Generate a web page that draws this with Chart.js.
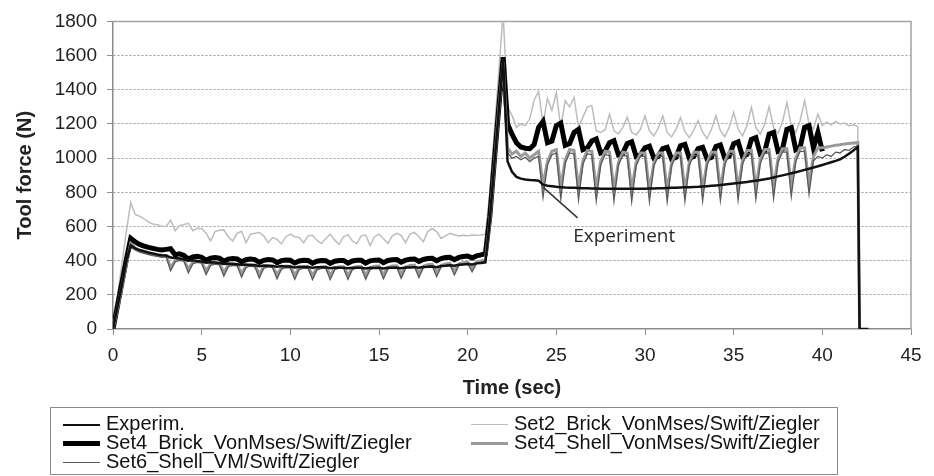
<!DOCTYPE html>
<html>
<head>
<meta charset="utf-8">
<title>Tool force vs time</title>
<script src="https://cdn.jsdelivr.net/npm/chart.js@4/dist/chart.umd.min.js"></script>
<style>
    body { margin: 0; background: #fff; }
    #wrap { position: relative; width: 934px; height: 476px; }
    #legend {
        position: absolute; left: 50px; top: 407px; width: 788px; height: 68px;
        border: 1px solid #8a8a8a; box-sizing: border-box;
        font-family: 'Liberation Sans', Arial, sans-serif; font-size: 20px; color: #111;
    }
    .item { position: absolute; height: 20px; line-height: 20px; white-space: nowrap; }
    .swatch { display: inline-block; vertical-align: middle; width: 37px; margin-right: 6px; }
</style>
</head>
<body>
<div id="wrap">
    <canvas id="force-chart" width="934" height="476"></canvas>
    <div id="legend"></div>
</div>
<script>
// Sample times (sec)
const time = [
    0, 0.25, 0.5, 0.75, 1, 1.25, 1.5, 1.75,
    2, 2.25, 2.5, 2.75, 3, 3.25, 3.5, 3.75,
    4, 4.25, 4.5, 4.75, 5, 5.25, 5.5, 5.75,
    6, 6.25, 6.5, 6.75, 7, 7.25, 7.5, 7.75,
    8, 8.25, 8.5, 8.75, 9, 9.25, 9.5, 9.75,
    10, 10.25, 10.5, 10.75, 11, 11.25, 11.5, 11.75,
    12, 12.25, 12.5, 12.75, 13, 13.25, 13.5, 13.75,
    14, 14.25, 14.5, 14.75, 15, 15.25, 15.5, 15.75,
    16, 16.25, 16.5, 16.75, 17, 17.25, 17.5, 17.75,
    18, 18.25, 18.5, 18.75, 19, 19.25, 19.5, 19.75,
    20, 20.25, 20.5, 20.75, 21, 21.25, 21.5, 21.75,
    22, 22.25, 22.5, 22.75, 23, 23.25, 23.5, 23.75,
    24, 24.25, 24.5, 24.75, 25, 25.25, 25.5, 25.75,
    26, 26.25, 26.5, 26.75, 27, 27.25, 27.5, 27.75,
    28, 28.25, 28.5, 28.75, 29, 29.25, 29.5, 29.75,
    30, 30.25, 30.5, 30.75, 31, 31.25, 31.5, 31.75,
    32, 32.25, 32.5, 32.75, 33, 33.25, 33.5, 33.75,
    34, 34.25, 34.5, 34.75, 35, 35.25, 35.5, 35.75,
    36, 36.25, 36.5, 36.75, 37, 37.25, 37.5, 37.75,
    38, 38.25, 38.5, 38.75, 39, 39.25, 39.5, 39.75,
    40, 40.25, 40.5, 40.75, 41, 41.25, 41.5, 41.75,
    42, 42.1, 42.6
];

// Tool force (N) per series
const experim = [
    0, 130, 260, 400, 490, 472, 462, 455,
    448, 442, 436, 432, 430, 418, 415, 412,
    408, 400, 402, 398, 395, 388, 391, 389,
    386, 380, 383, 381, 379, 374, 377, 375,
    374, 368, 372, 370, 369, 364, 368, 366,
    366, 360, 364, 363, 363, 358, 362, 361,
    361, 356, 360, 359, 359, 355, 359, 358,
    358, 354, 358, 357, 358, 354, 358, 358,
    359, 355, 360, 360, 362, 358, 363, 364,
    366, 362, 368, 370, 373, 370, 376, 378,
    380, 378, 384, 386, 390, 640, 960, 1270,
    1580, 980, 920, 890, 880, 875, 872, 870,
    868, 845, 838, 835, 832, 830, 828, 827,
    826, 825, 824, 823, 822, 822, 821, 821,
    820, 820, 820, 820, 820, 820, 820, 821,
    821, 822, 822, 823, 824, 825, 826, 827,
    828, 829, 830, 831, 832, 834, 836, 838,
    840, 842, 845, 848, 851, 854, 857, 860,
    864, 868, 872, 876, 881, 887, 893, 899,
    905, 911, 917, 924, 931, 938, 945, 952,
    960, 968, 976, 984, 993, 1008, 1025, 1045,
    1065, 0, 0
];

const set2Brick = [
    0, 190, 380, 570, 740, 670, 660, 645,
    625, 615, 610, 602, 600, 638, 575, 605,
    612, 618, 575, 590, 588, 560, 515, 570,
    578, 580, 540, 515, 560, 572, 505, 555,
    560, 565, 545, 505, 535, 525, 498, 540,
    555, 540, 535, 505, 545, 548, 520, 500,
    530, 555, 520, 495, 540, 552, 515, 500,
    545, 550, 488, 540, 555, 530, 500, 545,
    560, 548, 505, 555, 565, 540, 510, 570,
    588, 570, 530, 545, 560, 552, 545, 548,
    545, 550, 548, 550, 555, 800, 1150, 1500,
    1850, 1300, 1250, 1180, 1200, 1190, 1230, 1340,
    1390, 1200, 1350, 1280, 1384, 1180, 1336, 1300,
    1355, 1180, 1240, 1300, 1307, 1160, 1150, 1165,
    1258, 1160, 1141, 1180, 1240, 1150, 1135, 1170,
    1248, 1160, 1130, 1175, 1248, 1150, 1125, 1170,
    1238, 1155, 1120, 1165, 1219, 1150, 1115, 1170,
    1248, 1160, 1125, 1180, 1268, 1170, 1130, 1190,
    1297, 1180, 1140, 1200, 1300, 1180, 1145, 1210,
    1326, 1190, 1150, 1220, 1336, 1200, 1170, 1258,
    1190, 1210, 1195, 1215, 1200, 1205, 1190, 1195,
    1185, 0, null
];

const set4Brick = [
    0, 135, 270, 405, 530, 510, 495, 485,
    478, 472, 466, 462, 466, 470, 435, 440,
    430, 410, 422, 426, 420, 402, 414, 418,
    414, 397, 409, 413, 410, 393, 405, 409,
    406, 390, 402, 406, 404, 388, 400, 404,
    402, 386, 398, 402, 401, 385, 397, 401,
    400, 384, 397, 401, 401, 385, 398, 402,
    402, 386, 399, 403, 404, 388, 401, 405,
    406, 391, 403, 408, 410, 395, 407, 412,
    414, 400, 412, 418, 420, 406, 419, 424,
    427, 416, 428, 434, 440, 660, 980, 1290,
    1590, 1200, 1140, 1090, 1065, 1058, 1055, 1080,
    1180, 1215, 1090, 1100, 1190, 1205, 1075, 1085,
    1150, 1168, 1050, 1060, 1100, 1112, 1030, 1040,
    1090, 1102, 1020, 1030, 1085, 1095, 1010, 1020,
    1060, 1070, 1000, 1010, 1055, 1063, 995, 1005,
    1072, 1080, 1000, 1010, 1055, 1063, 995, 1005,
    1068, 1077, 1000, 1012, 1085, 1095, 1010, 1022,
    1110, 1120, 1025, 1038, 1140, 1150, 1040, 1052,
    1168, 1178, 1050, 1065, 1180, 1190, 1060, 1150,
    1040, null, null, null, null, null, null, null,
    null, null, null
];

const set4Shell = [
    0, 120, 250, 380, 500, 475, 460, 452,
    445, 438, 432, 428, 430, 360, 400, 410,
    405, 350, 390, 398, 392, 340, 380, 388,
    384, 332, 374, 382, 378, 326, 368, 376,
    372, 322, 364, 372, 368, 318, 360, 368,
    366, 316, 358, 366, 364, 314, 356, 364,
    364, 314, 356, 365, 365, 315, 357, 366,
    366, 316, 358, 367, 368, 318, 360, 369,
    370, 321, 363, 372, 374, 325, 367, 376,
    378, 330, 372, 381, 384, 340, 380, 388,
    392, 355, 392, 398, 405, 630, 960, 1280,
    1560, 1060, 1024, 1040, 1010, 1030, 1000, 1020,
    1040, 840, 980, 1040, 1050, 830, 990, 1050,
    1045, 825, 985, 1045, 1040, 820, 980, 1040,
    1035, 815, 975, 1035, 1030, 815, 975, 1030,
    1030, 810, 970, 1030, 1030, 810, 970, 1030,
    1030, 810, 975, 1035, 1035, 815, 975, 1035,
    1035, 815, 980, 1040, 1040, 820, 985, 1045,
    1045, 825, 990, 1050, 1050, 830, 995, 1055,
    1055, 840, 1000, 1060, 1060, 850, 1010, 1060,
    1060, 1065, 1070, 1075, 1078, 1082, 1085, 1088,
    1090, 0, null
];

const set6Shell = [
    0, 115, 240, 370, 480, 462, 450, 442,
    436, 430, 425, 420, 422, 340, 392, 402,
    398, 328, 382, 390, 385, 318, 372, 380,
    376, 310, 365, 373, 370, 304, 360, 368,
    364, 298, 355, 363, 360, 294, 351, 359,
    357, 291, 348, 356, 355, 289, 346, 355,
    355, 289, 347, 356, 356, 290, 348, 357,
    357, 291, 349, 358, 359, 294, 351, 360,
    362, 297, 354, 363, 365, 301, 358, 367,
    370, 306, 363, 372, 376, 316, 371, 380,
    384, 335, 384, 392, 398, 620, 950, 1270,
    1550, 1030, 1000, 1010, 990, 1005, 980, 1000,
    1010, 770, 960, 1020, 1030, 760, 970, 1030,
    1025, 755, 965, 1025, 1020, 750, 960, 1020,
    1015, 748, 958, 1015, 1012, 745, 955, 1012,
    1010, 745, 955, 1010, 1010, 745, 955, 1012,
    1012, 748, 958, 1015, 1015, 750, 960, 1018,
    1018, 752, 962, 1020, 1022, 755, 966, 1025,
    1026, 760, 970, 1030, 1030, 765, 975, 1035,
    1035, 775, 980, 1040, 1040, 790, 985, 1010,
    1000, 1020, 1010, 1035, 1030, 1050, 1045, 1065,
    1070, 0, null
];

const xTicks = { min: 0, max: 45, step: 5 };
const yTicks = { min: 0, max: 1800, step: 200 };

// "Experiment" callout: pointer from the curve to the label (time, force)
const calloutFrom = [24.25, 830];
const calloutTo = [26.2, 650];
const calloutLabel = [25.95, 540];

const toPoints = values => values.map((v, i) => ({ x: time[i], y: v }));

const series = [
    { label: 'Experim.', data: experim, color: '#111111', width: 2.5, order: 0 },
    { label: 'Set2_Brick_VonMses/Swift/Ziegler', data: set2Brick, color: '#bdbdbd', width: 1.5, order: 4 },
    { label: 'Set4_Brick_VonMses/Swift/Ziegler', data: set4Brick, color: '#000000', width: 5, order: 3 },
    { label: 'Set4_Shell_VonMses/Swift/Ziegler', data: set4Shell, color: '#9a9a9a', width: 3, order: 2 },
    { label: 'Set6_Shell_VM/Swift/Ziegler', data: set6Shell, color: '#5a5a5a', width: 1.3, order: 1 }
];

const datasets = series.map(s => ({
    label: s.label,
    data: toPoints(s.data),
    borderColor: s.color,
    borderWidth: s.width,
    order: s.order,
    pointRadius: 0,
    tension: 0,
    spanGaps: false
}));

// Solid frame along the top and right of the plot area
const framePlugin = {
    id: 'frame',
    beforeDatasetsDraw(chart) {
        const { ctx, chartArea: a } = chart;
        ctx.save();
        ctx.strokeStyle = '#a3a3a3';
        ctx.lineWidth = 1.5;
        ctx.beginPath();
        ctx.moveTo(a.left, a.top);
        ctx.lineTo(a.right, a.top);
        ctx.lineTo(a.right, a.bottom);
        ctx.stroke();
        ctx.restore();
    }
};

const calloutPlugin = {
    id: 'callout',
    afterDatasetsDraw(chart) {
        const { ctx, scales: { x, y } } = chart;
        ctx.save();
        ctx.strokeStyle = '#333';
        ctx.lineWidth = 1.5;
        ctx.beginPath();
        ctx.moveTo(x.getPixelForValue(calloutFrom[0]), y.getPixelForValue(calloutFrom[1]));
        ctx.lineTo(x.getPixelForValue(calloutTo[0]), y.getPixelForValue(calloutTo[1]));
        ctx.stroke();
        ctx.fillStyle = '#2a2a2a';
        ctx.font = '19px "Open Sans", "Noto Sans", sans-serif';
        ctx.textAlign = 'left';
        ctx.textBaseline = 'middle';
        ctx.fillText('Experiment', x.getPixelForValue(calloutLabel[0]), y.getPixelForValue(calloutLabel[1]));
        ctx.restore();
    }
};

const tickFont = { family: "'Liberation Sans', Arial, sans-serif", size: 19 };
const titleFont = { family: "'Liberation Sans', Arial, sans-serif", size: 20, weight: 'bold' };

const ctx = document.getElementById('force-chart').getContext('2d');
window.forceChart = new Chart(ctx, {
    type: 'line',
    data: { datasets: datasets },
    options: {
        responsive: false,
        animation: false,
        layout: { padding: { top: 20, right: 23, left: 0, bottom: 76 } },
        plugins: { legend: { display: false }, tooltip: { enabled: false } },
        scales: {
            x: {
                type: 'linear',
                min: xTicks.min,
                max: xTicks.max,
                afterFit: scale => { scale.height = 71; },
                ticks: { stepSize: xTicks.step, padding: 9, color: '#222', font: tickFont, maxRotation: 0,
                         callback: v => String(v) },
                grid: { drawOnChartArea: false, drawTicks: true, tickLength: 6, tickColor: '#8c8c8c', color: '#8c8c8c' },
                border: { color: '#8c8c8c', width: 1.5 },
                title: { display: true, text: 'Time (sec)', color: '#222', font: titleFont, padding: { top: 0, bottom: 0 } }
            },
            y: {
                min: yTicks.min,
                max: yTicks.max,
                afterFit: scale => { scale.width = 113; },
                ticks: { stepSize: yTicks.step, padding: 10, color: '#222', font: tickFont,
                         callback: v => String(v) },
                grid: {
                    color: c => (c.tick && (c.tick.value === yTicks.min || c.tick.value === yTicks.max)) ? 'rgba(0,0,0,0)' : '#9c9c9c',
                    tickColor: '#8c8c8c',
                    tickLength: 6,
                    tickBorderDash: [],
                    borderDash: [2, 2]
                },
                border: { color: '#8c8c8c', width: 1.5, dash: [2, 2] },
                title: { display: true, text: 'Tool force (N)', color: '#222', font: titleFont, padding: { top: 13, bottom: 0 } }
            }
        }
    },
    plugins: [framePlugin, calloutPlugin]
});

// Two-column legend in a box under the chart
const legendSlots = [
    { idx: 0, left: 12, top: 5 },
    { idx: 1, left: 420, top: 5 },
    { idx: 2, left: 12, top: 24 },
    { idx: 3, left: 420, top: 24 },
    { idx: 4, left: 12, top: 43 }
];
const legendEl = document.getElementById('legend');
legendSlots.forEach(slot => {
    const s = series[slot.idx];
    const item = document.createElement('div');
    item.className = 'item';
    item.style.left = slot.left + 'px';
    item.style.top = slot.top + 'px';
    const sw = document.createElement('span');
    sw.className = 'swatch';
    sw.style.borderTop = s.width + 'px solid ' + s.color;
    item.appendChild(sw);
    item.appendChild(document.createTextNode(s.label));
    legendEl.appendChild(item);
});
</script>
</body>
</html>
